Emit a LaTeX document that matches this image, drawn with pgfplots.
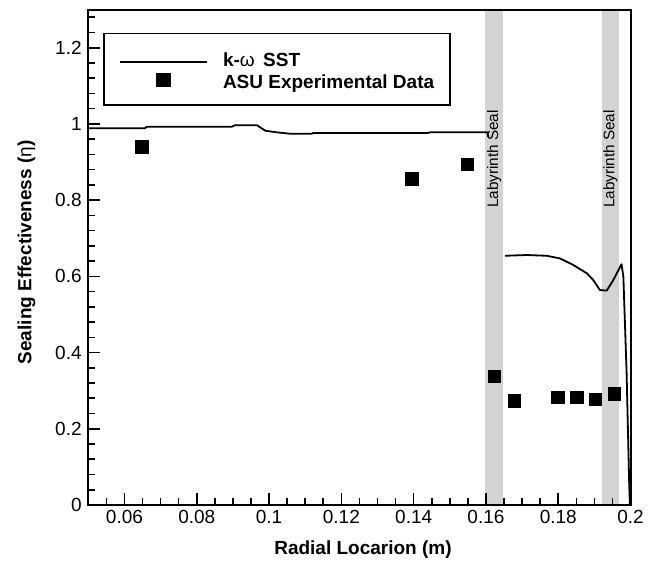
\documentclass[border=0pt]{standalone}
\usepackage{fontspec}
\setmainfont{Liberation Sans}
\usepackage{pgfplots}
\pgfplotsset{compat=1.18}
\definecolor{bandgray}{RGB}{211,211,211}
\pgfplotsset{
  cfdleg/.style={legend image code/.code={\draw[##1] (0pt,-4pt) -- (87pt,-4pt);}},
  expleg/.style={legend image code/.code={\draw[##1] plot coordinates {(43.5pt,0pt)};}},
}
\begin{document}
\begin{tikzpicture}[x=1pt,y=1pt]
\useasboundingbox (0,0) rectangle (656,562);
\begin{axis}[
  at={(88.3pt,57pt)}, anchor=south west,
  scale only axis, width=542.3pt, height=495.4pt,
  xmin=0.05, xmax=0.2, ymin=0, ymax=1.3,
  axis on top,
  xtick={0.06,0.08,0.1,0.12,0.14,0.16,0.18,0.2},
  xticklabels={0.06,0.08,0.1,0.12,0.14,0.16,0.18,0.2},
  minor xtick={0.05,0.055,0.065,0.07,0.075,0.085,0.09,0.095,0.105,0.11,0.115,0.125,0.13,0.135,0.145,0.15,0.155,0.165,0.17,0.175,0.185,0.19,0.195},
  ytick={0,0.2,0.4,0.6,0.8,1.0,1.2},
  yticklabels={0,0.2,0.4,0.6,0.8,1,1.2},
  minor ytick={0.04,0.08,0.12,0.16,0.24,0.28,0.32,0.36,0.44,0.48,0.52,0.56,0.64,0.68,0.72,0.76,0.84,0.88,0.92,0.96,1.04,1.08,1.12,1.16,1.24,1.28},
  tick pos=left, tick align=inside,
  major tick length=12pt, minor tick length=7pt,
  every tick/.style={line width=1.6pt, black},
  axis line style={line width=2pt},
  ticklabel style={font=\fontsize{19}{22}\selectfont},
  xticklabel style={inner sep=5pt},
  yticklabel style={inner sep=6.5pt},
  xlabel={\bfseries Radial Locarion (m)},
  ylabel={\bfseries Sealing Effectiveness ({\mdseries η})},
  label style={font=\fontsize{19}{22}\selectfont},
  xlabel style={at={(axis description cs:0.5065,-0.091)}, anchor=center},
  ylabel style={at={(axis description cs:-0.114,0.51)}, anchor=center},
  legend style={at={(rel axis cs:0.0266,0.9534)}, anchor=north west,
    draw=black, line width=1.8pt, fill=white,
    inner xsep=15.6pt, inner ysep=14.4pt,
    row sep=0.9pt, column sep=15pt,
    nodes={inner sep=0pt, text height=19pt, text depth=1.8pt},
    cells={anchor=west},
    font=\fontsize{19}{22}\selectfont\bfseries},
]
\addplot[fill=bandgray, draw=none, forget plot] coordinates {(0.1598,0) (0.1647,0) (0.1647,1.3) (0.1598,1.3)} --cycle;
\addplot[fill=bandgray, draw=none, forget plot] coordinates {(0.1922,0) (0.1967,0) (0.1967,1.3) (0.1922,1.3)} --cycle;
\node[rotate=90, inner sep=0pt, font=\fontsize{15.3}{18}\selectfont] at (axis cs:0.16225,0.908) {Labyrinth Seal};
\node[rotate=90, inner sep=0pt, font=\fontsize{15.3}{18}\selectfont] at (axis cs:0.1944,0.908) {Labyrinth Seal};
\addplot[black, line width=1.8pt, line join=round, cfdleg]
  coordinates {
  (0.05,0.9885) (0.0657,0.9885) (0.0662,0.9927) (0.0897,0.9927) (0.0905,0.9963)
  (0.0967,0.9963) (0.0990,0.982) (0.1021,0.978) (0.1058,0.9743) (0.1118,0.9743)
  (0.1121,0.976) (0.1440,0.976) (0.1445,0.978) (0.1604,0.978) (0.1606,0.966)
  };
\addlegendentry{k-{\mdseries ω} \,SST}
\addplot[black, line width=1.8pt, line join=round, forget plot]
  coordinates {
  (0.1653,0.654) (0.1713,0.656) (0.1768,0.654) (0.1805,0.647) (0.1841,0.630)
  (0.1879,0.608) (0.1897,0.590) (0.1915,0.564) (0.1934,0.5627) (0.1952,0.590)
  (0.1975,0.632) (0.1980,0.599) (0.1989,0.3455) (0.1996,0.06) (0.1998,0.0)
  };
\addplot[only marks, mark=square*, mark size=6.3pt, mark options={fill=black, draw=none}, expleg]
  coordinates {
  (0.0648,0.940) (0.1395,0.857) (0.1548,0.894) (0.1623,0.3385)
  (0.1678,0.273) (0.1798,0.2826) (0.1851,0.2826) (0.1902,0.278) (0.1955,0.292)
  };
\addlegendentry{ASU Experimental Data}
\end{axis}
\end{tikzpicture}
\end{document}
